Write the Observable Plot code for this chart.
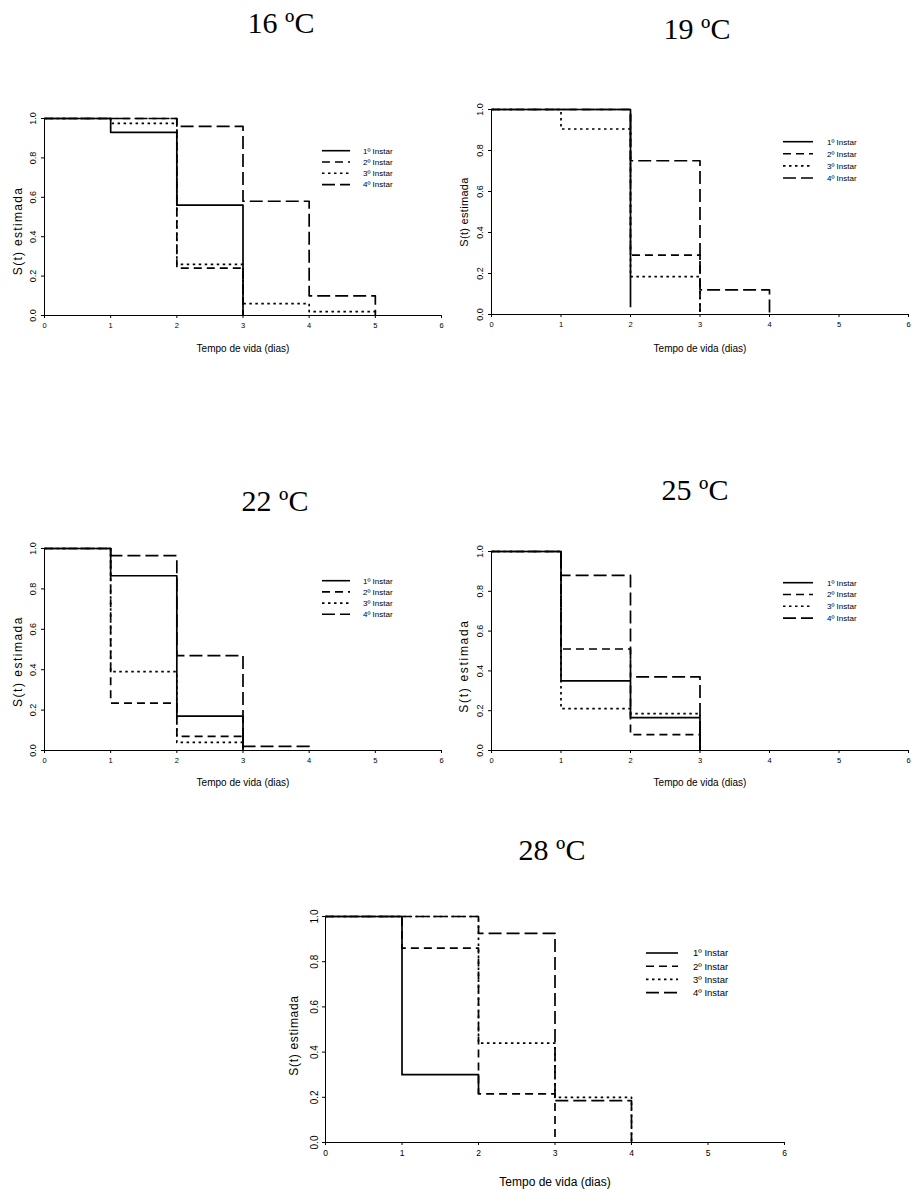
<!DOCTYPE html>
<html><head><meta charset="utf-8">
<script src="https://cdn.jsdelivr.net/npm/d3@7"></script>
<script src="https://cdn.jsdelivr.net/npm/@observablehq/plot@0.6"></script>
<style>
body{margin:0;background:#fff;}
#wrap{position:relative;width:914px;height:1195px;overflow:hidden;background:#fff;}
.panel{position:absolute;}
#overlay{position:absolute;left:0;top:0;}
</style></head><body><div id="wrap"></div>
<script>
// ---- data ----
const xTicks = [0, 1, 2, 3, 4, 5, 6];
const yTicks = [0, 0.2, 0.4, 0.6, 0.8, 1.0];
const seriesNames = ["1º Instar", "2º Instar", "3º Instar", "4º Instar"];
const titles = ["16 ºC", "19 ºC", "22 ºC", "25 ºC", "28 ºC"];
const xLabel = "Tempo de vida (dias)";
const yLabel = "S(t) estimada";

// survival estimate on each day interval [t, t+1), t = 0,1,2,...; last value = level after the final drop
const s16_i1 = [1, 0.93, 0.56, 0];
const s16_i2 = [1, 1, 0.24, 0];
const s16_i3 = [1, 0.975, 0.26, 0.06, 0.02, 0];
const s16_i4 = [1, 1, 0.96, 0.58, 0.10, 0];

const s19_i1 = [1, 1, 0.035];
const s19_i2 = [1, 1, 0.29, 0];
const s19_i3 = [1, 0.905, 0.185, 0];
const s19_i4 = [1, 1, 0.75, 0.12, 0];

const s22_i1 = [1, 0.865, 0.17, 0];
const s22_i2 = [1, 0.235, 0.07, 0];
const s22_i3 = [1, 0.39, 0.04, 0];
const s22_i4 = [1, 0.965, 0.47, 0.02, 0];

const s25_i1 = [1, 0.35, 0.165, 0];
const s25_i2 = [1, 0.51, 0.08, 0];
const s25_i3 = [1, 0.21, 0.185, 0];
const s25_i4 = [1, 0.88, 0.37, 0];

const s28_i1 = [1, 0.30, 0.215];
const s28_i2 = [1, 0.86, 0.215, 0];
const s28_i3 = [1, 1, 0.44, 0.20, 0];
const s28_i4 = [1, 1, 0.925, 0.185, 0];

// ---- styles / layout ----
const dashes = [null, "8,5", "2.5,3.5", "13,5"];
const FONT = "'Liberation Sans', Arial, sans-serif";

const panels = [
  {title: titles[0], series: [s16_i1, s16_i2, s16_i3, s16_i4],
   left: 44, right: 441, top: 118, bottom: 315, tx: 281, ty: 33,
   leg: {x1: 322, x2: 350, tx: 363, y0: 150.7, dy: 11.3, fs: 8},
   tickFs: 7.5, xlFs: 10, xlDy: 36, ylFs: 12, ylDx: -26, ylDy: 14, ylSp: 1.3},
  {title: titles[1], series: [s19_i1, s19_i2, s19_i3, s19_i4],
   left: 491, right: 908, top: 109, bottom: 314, tx: 697, ty: 39,
   leg: {x1: 783, x2: 813, tx: 827, y0: 141.7, dy: 12.1, fs: 8},
   tickFs: 7.5, xlFs: 10, xlDy: 37, ylFs: 11, ylDx: -27, ylDy: 0, ylSp: 0.3},
  {title: titles[2], series: [s22_i1, s22_i2, s22_i3, s22_i4],
   left: 44, right: 441, top: 548, bottom: 750, tx: 275, ty: 511,
   leg: {x1: 322, x2: 350, tx: 363, y0: 580.7, dy: 11.2, fs: 8},
   tickFs: 7.5, xlFs: 10, xlDy: 35, ylFs: 12, ylDx: -26, ylDy: 12, ylSp: 1.5},
  {title: titles[3], series: [s25_i1, s25_i2, s25_i3, s25_i4],
   left: 491, right: 908, top: 551, bottom: 750, tx: 695, ty: 500,
   leg: {x1: 783, x2: 813, tx: 827, y0: 582.7, dy: 11.8, fs: 8},
   tickFs: 7.5, xlFs: 10, xlDy: 35, ylFs: 12, ylDx: -27, ylDy: 15, ylSp: 1.7},
  {title: titles[4], series: [s28_i1, s28_i2, s28_i3, s28_i4],
   left: 325, right: 784, top: 916, bottom: 1142, tx: 552, ty: 860,
   leg: {x1: 646, x2: 678, tx: 693, y0: 953, dy: 13.2, fs: 9.5},
   tickFs: 8.5, xlFs: 12, xlDy: 43, ylFs: 12, ylDx: -31, ylDy: 6, ylSp: 0.7}
];

const wrap = document.getElementById("wrap");
const mL = 50, mR = 5, mT = 8, mB = 56;

panels.forEach(p => {
  const W = p.right - p.left + mL + mR;
  const H = p.bottom - p.top + mT + mB;
  const marks = [];
  p.series.forEach((vals, i) => {
    const data = vals.map((v, t) => ({t, v, s: seriesNames[i]}));
    const opts = {x: "t", y: "v", curve: "step-after", stroke: "black", strokeWidth: 1.7, strokeLinecap: "butt"};
    if (dashes[i]) opts.strokeDasharray = dashes[i];
    marks.push(Plot.line(data, opts));
  });
  marks.push(Plot.ruleX([0], {stroke: "black", strokeWidth: 1}));
  marks.push(Plot.ruleY([0], {stroke: "black", strokeWidth: 1}));
  marks.push(Plot.text(yTicks, {y: d => d, text: d => d.toFixed(1), frameAnchor: "left", textAnchor: "middle", dx: -11, rotate: -90, fontSize: p.tickFs + 1.5, fill: "black"}));
  marks.push(Plot.text([xLabel], {text: d => d, frameAnchor: "bottom", textAnchor: "middle", dy: p.xlDy, fontSize: p.xlFs, fill: "black"}));
  marks.push(Plot.text([yLabel], {text: d => d, frameAnchor: "left", textAnchor: "middle", dx: p.ylDx, dy: p.ylDy, rotate: -90, fontSize: p.ylFs, fill: "black"}));

  const svg = Plot.plot({
    width: W, height: H,
    marginLeft: mL, marginRight: mR, marginTop: mT, marginBottom: mB,
    x: {domain: [0, 6], ticks: xTicks, tickSize: 3, tickPadding: 4, tickFormat: d => String(d), label: null},
    y: {domain: [0, 1], ticks: yTicks, tickSize: 3, tickPadding: 2, tickFormat: () => "", label: null},
    style: {fontFamily: FONT, fontSize: p.tickFs + "px", color: "black", background: "transparent", overflow: "visible"},
    marks
  });
  d3.select(svg).selectAll("text").filter(function() { return this.textContent === yLabel; })
    .style("letter-spacing", p.ylSp + "px");
  svg.classList.add("panel");
  svg.style.left = (p.left - mL) + "px";
  svg.style.top = (p.top - mT) + "px";
  wrap.appendChild(svg);
});

// titles and legends
const ov = d3.select(wrap).append("svg").attr("id", "overlay").attr("width", 914).attr("height", 1195);
panels.forEach(p => {
  ov.append("text").attr("x", p.tx).attr("y", p.ty).attr("text-anchor", "middle")
    .attr("font-family", "'Liberation Serif', 'Times New Roman', serif").attr("font-size", 30)
    .attr("fill", "black").text(p.title);
  seriesNames.forEach((name, i) => {
    const y = p.leg.y0 + i * p.leg.dy;
    const ln = ov.append("line").attr("x1", p.leg.x1).attr("x2", p.leg.x2).attr("y1", y).attr("y2", y)
      .attr("stroke", "black").attr("stroke-width", 1.6);
    if (dashes[i]) ln.attr("stroke-dasharray", dashes[i]);
    ov.append("text").attr("x", p.leg.tx).attr("y", y).attr("dy", "0.35em")
      .attr("font-family", FONT).attr("font-size", p.leg.fs).attr("fill", "black").text(name);
  });
});
</script></body></html>
